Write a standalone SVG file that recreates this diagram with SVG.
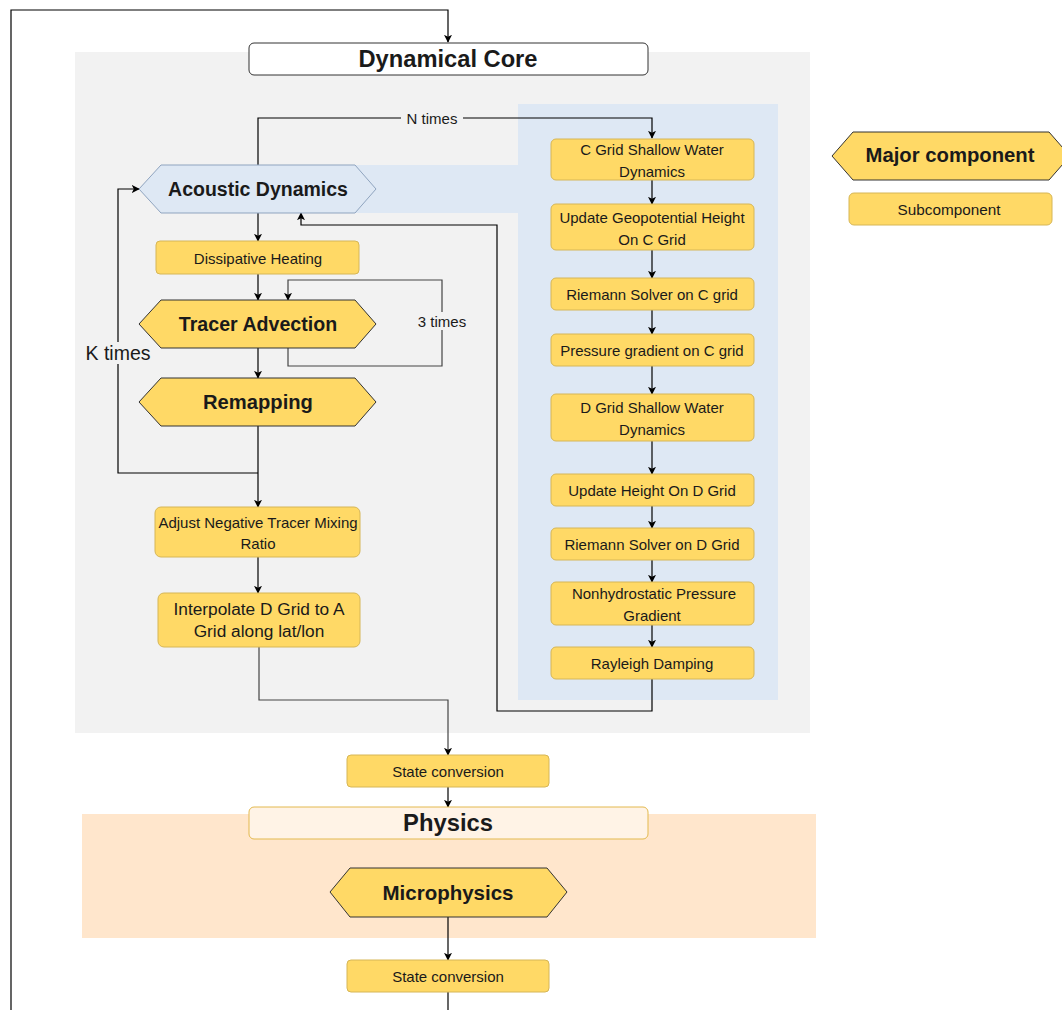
<svg xmlns="http://www.w3.org/2000/svg" width="1062" height="1010" viewBox="0 0 1062 1010">
<defs>
<marker id="arr" viewBox="0 0 10 10" refX="9" refY="5" markerWidth="8" markerHeight="8" markerUnits="userSpaceOnUse" orient="auto">
<path d="M0,0 L10,5 L0,10 L2.5,5 Z" fill="#000"/>
</marker>
<style>
.t{font-family:"Liberation Sans",Arial,sans-serif;fill:#1a1a1a;text-anchor:middle;dominant-baseline:central}
.b{font-weight:bold}
.sub{fill:#ffd966;stroke:#d6b656;stroke-width:1}
.hex{fill:#ffd966;stroke:#333;stroke-width:1}
.ln{fill:none;stroke:#000;stroke-width:1.2}
.lg{fill:none;stroke:#444;stroke-width:1.2}
</style>
</defs>
<rect width="1062" height="1010" fill="#fff"/>
<!-- backgrounds -->
<rect x="75" y="52" width="735" height="681" fill="#f2f2f2"/>
<rect x="518" y="104" width="260" height="596" fill="#dee8f4"/>
<rect x="355" y="165" width="163" height="48" fill="#dee8f4"/>
<rect x="82" y="814" width="734" height="124" fill="#ffe6cc"/>

<g id="connectors">
<path class="ln" d="M11,1010 V10 H448 V42" marker-end="url(#arr)"/>
<path class="ln" d="M258,165 V118 H652 V138" marker-end="url(#arr)"/>
<rect x="401" y="110" width="62" height="16" fill="#f2f2f2"/>
<text class="t" x="432" y="118" font-size="15">N times</text>
<path class="ln" d="M258,213 V241" marker-end="url(#arr)"/>
<path class="ln" d="M258,274 V300" marker-end="url(#arr)"/>
<path class="lg" d="M288,348 V366 H442 V280 H288 V300" marker-end="url(#arr)"/>
<rect x="413" y="312" width="60" height="18" fill="#f2f2f2"/>
<text class="t" x="442" y="321" font-size="15">3 times</text>
<path class="ln" d="M258,348 V378" marker-end="url(#arr)"/>
<path class="ln" d="M258,426 V507" marker-end="url(#arr)"/>
<path class="ln" d="M258,473 H118 V189 H139" marker-end="url(#arr)"/>
<rect x="82" y="342" width="72" height="22" fill="#f2f2f2"/>
<text class="t" x="118" y="353" font-size="19.5">K times</text>
<path class="ln" d="M258,557 V593" marker-end="url(#arr)"/>
<path class="lg" d="M259,647 V700 H448 V755" marker-end="url(#arr)"/>
<path class="ln" d="M652,180 V204" marker-end="url(#arr)"/>
<path class="ln" d="M652,250 V278" marker-end="url(#arr)"/>
<path class="ln" d="M652,310 V334" marker-end="url(#arr)"/>
<path class="ln" d="M652,366 V394" marker-end="url(#arr)"/>
<path class="ln" d="M652,441 V474" marker-end="url(#arr)"/>
<path class="ln" d="M652,506 V528" marker-end="url(#arr)"/>
<path class="ln" d="M652,560 V582" marker-end="url(#arr)"/>
<path class="ln" d="M652,625 V647" marker-end="url(#arr)"/>
<path class="ln" d="M652,679 V711 H497 V225 H301 V213" marker-end="url(#arr)"/>
<path class="ln" d="M448,787 V807" marker-end="url(#arr)"/>
<path class="ln" d="M448,917 V960" marker-end="url(#arr)"/>
<path class="ln" d="M448,992 V1010"/>
</g>

<g id="dynamical-core">
<rect x="249" y="43" width="399" height="32" rx="5" fill="#fff" stroke="#333" stroke-width="1"/>
<text class="t b" x="448" y="59" font-size="23.7">Dynamical Core</text>
</g>
<g id="acoustic-dynamics">
<polygon points="139,189 161,165 355,165 376,189 355,213 161,213" fill="#dee8f4" stroke="#8fa4bf" stroke-width="1"/>
<text class="t b" x="258" y="189" font-size="19.5">Acoustic Dynamics</text>
</g>
<g id="dissipative-heating">
<rect class="sub" x="156" y="241" width="203" height="33" rx="4"/>
<text class="t" x="258" y="258" font-size="15">Dissipative Heating</text>
</g>
<g id="tracer-advection">
<polygon class="hex" points="139,324 161,300 355,300 376,324 355,348 161,348"/>
<text class="t b" x="258" y="324" font-size="19.6">Tracer Advection</text>
</g>
<g id="remapping">
<polygon class="hex" points="139,402 161,378 355,378 376,402 355,426 161,426"/>
<text class="t b" x="258" y="402" font-size="20.2">Remapping</text>
</g>
<g id="adjust-negative">
<rect class="sub" x="155" y="507" width="205" height="50" rx="6"/>
<text class="t" x="258" y="522" font-size="15">Adjust Negative Tracer Mixing</text>
<text class="t" x="258" y="543" font-size="15">Ratio</text>
</g>
<g id="interpolate">
<rect class="sub" x="158" y="593" width="202" height="54" rx="6"/>
<text class="t" x="259" y="609" font-size="17.3">Interpolate D Grid to A</text>
<text class="t" x="259" y="631" font-size="17.3">Grid along lat/lon</text>
</g>

<g id="c-grid-swd">
<rect class="sub" x="551" y="139" width="203" height="41" rx="5"/>
<text class="t" x="652" y="149" font-size="15">C Grid Shallow Water</text>
<text class="t" x="652" y="171" font-size="15">Dynamics</text>
</g>
<g id="update-geopotential">
<rect class="sub" x="551" y="204" width="203" height="46" rx="5"/>
<text class="t" x="652" y="217" font-size="15">Update Geopotential Height</text>
<text class="t" x="652" y="239" font-size="15">On C Grid</text>
</g>
<g id="riemann-c">
<rect class="sub" x="551" y="278" width="203" height="32" rx="5"/>
<text class="t" x="652" y="294" font-size="15">Riemann Solver on C grid</text>
</g>
<g id="pressure-gradient-c">
<rect class="sub" x="551" y="334" width="203" height="32" rx="5"/>
<text class="t" x="652" y="350" font-size="15">Pressure gradient on C grid</text>
</g>
<g id="d-grid-swd">
<rect class="sub" x="551" y="394" width="203" height="47" rx="5"/>
<text class="t" x="652" y="407" font-size="15">D Grid Shallow Water</text>
<text class="t" x="652" y="429" font-size="15">Dynamics</text>
</g>
<g id="update-height-d">
<rect class="sub" x="551" y="474" width="203" height="32" rx="5"/>
<text class="t" x="652" y="490" font-size="15">Update Height On D Grid</text>
</g>
<g id="riemann-d">
<rect class="sub" x="551" y="528" width="203" height="32" rx="5"/>
<text class="t" x="652" y="544" font-size="15">Riemann Solver on D Grid</text>
</g>
<g id="nonhydrostatic">
<rect class="sub" x="551" y="582" width="203" height="43" rx="5"/>
<text class="t" x="654" y="593" font-size="15">Nonhydrostatic Pressure</text>
<text class="t" x="652" y="615" font-size="15">Gradient</text>
</g>
<g id="rayleigh">
<rect class="sub" x="551" y="647" width="203" height="32" rx="5"/>
<text class="t" x="652" y="663" font-size="15">Rayleigh Damping</text>
</g>

<g id="state-conversion-1">
<rect class="sub" x="347" y="755" width="202" height="32" rx="4"/>
<text class="t" x="448" y="771" font-size="15">State conversion</text>
</g>
<g id="physics">
<rect x="249" y="807" width="399" height="32" rx="5" fill="#fff3e6" stroke="#e3b94e" stroke-width="1"/>
<text class="t b" x="448" y="822" font-size="23.8">Physics</text>
</g>
<g id="microphysics">
<polygon class="hex" points="330,892 350,868 547,868 567,892 547,917 350,917"/>
<text class="t b" x="448" y="892" font-size="20.5">Microphysics</text>
</g>
<g id="state-conversion-2">
<rect class="sub" x="347" y="960" width="202" height="32" rx="4"/>
<text class="t" x="448" y="976" font-size="15">State conversion</text>
</g>

<g id="legend-major">
<polygon class="hex" points="832,156 853,132 1049,132 1070,156 1049,180 853,180"/>
<text class="t b" x="950" y="155" font-size="20.3">Major component</text>
</g>
<g id="legend-sub">
<rect class="sub" x="849" y="193" width="203" height="32" rx="5"/>
<text class="t" x="949" y="209" font-size="15.3">Subcomponent</text>
</g>
</svg>
